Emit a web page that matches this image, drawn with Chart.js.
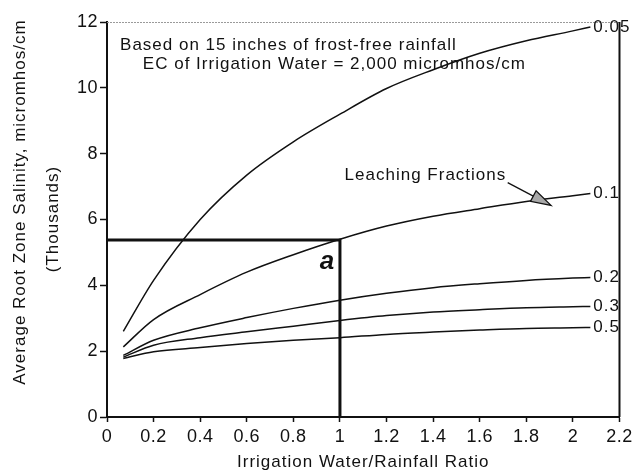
<!DOCTYPE html>
<html lang="en">
<head>
    <meta charset="UTF-8">
    <title>Average Root Zone Salinity vs Irrigation Water/Rainfall Ratio</title>
    <script src="https://cdn.jsdelivr.net/npm/chart.js@4.4.0/dist/chart.umd.min.js"></script>
    <style>
        html, body {
            margin: 0;
            padding: 0;
            background: #ffffff;
        }

        .chart-box {
            width: 636px;
            height: 471px;
            position: relative;
        }
    </style>
</head>
<body>
    <div class="chart-box">
        <canvas id="salinityChart"></canvas>
    </div>

    <script>
        // irrigation water / rainfall ratio where each curve was read
        const ratios = [0.07, 0.2, 0.4, 0.6, 0.8, 1.0, 1.2, 1.4, 1.6, 1.8, 2.0, 2.075];

        // average root zone salinity (thousands of micromhos/cm) per leaching fraction
        const lf005 = [2.6, 4.15, 6.0, 7.35, 8.36, 9.2, 9.98, 10.55, 11.05, 11.43, 11.73, 11.85];
        const lf01  = [2.13, 2.96, 3.72, 4.4, 4.93, 5.4, 5.8, 6.1, 6.33, 6.55, 6.72, 6.79];
        const lf02  = [1.87, 2.33, 2.71, 3.02, 3.3, 3.55, 3.76, 3.93, 4.05, 4.15, 4.22, 4.24];
        const lf03  = [1.82, 2.18, 2.41, 2.59, 2.76, 2.93, 3.08, 3.19, 3.26, 3.32, 3.35, 3.36];
        const lf05  = [1.78, 1.98, 2.11, 2.23, 2.33, 2.41, 2.51, 2.58, 2.64, 2.69, 2.71, 2.72];

        const seriesValues = [lf005, lf01, lf02, lf03, lf05];
        const fractionLabels = ['0.05', '0.1', '0.2', '0.3', '0.5'];

        const xTicks = [0, 0.2, 0.4, 0.6, 0.8, 1, 1.2, 1.4, 1.6, 1.8, 2, 2.2];
        const yTicks = [0, 2, 4, 6, 8, 10, 12];

        // example point "a": ratio 1.0 gives about 5,400 micromhos/cm
        const pointA = { x: 1, y: 5.38 };

        const FONT = '"Liberation Sans", Arial, Helvetica, sans-serif';
        const INK = '#111111';

        const decorations = {
            id: 'decorations',
            beforeDraw(chart) {
                chart.ctx.letterSpacing = '0.5px';
            },
            beforeDatasetsDraw(chart) {
                const { ctx, chartArea: area, scales: { x, y } } = chart;
                ctx.save();
                // frame: faint top edge, solid right edge
                ctx.strokeStyle = '#9a9a9a';
                ctx.lineWidth = 1;
                ctx.setLineDash([2, 1]);
                ctx.beginPath();
                ctx.moveTo(area.left, area.top + 0.5);
                ctx.lineTo(area.right, area.top + 0.5);
                ctx.stroke();
                ctx.setLineDash([]);
                ctx.strokeStyle = INK;
                ctx.lineWidth = 2;
                ctx.beginPath();
                ctx.moveTo(area.right, area.top);
                ctx.lineTo(area.right, area.bottom);
                ctx.stroke();

                // thick guide lines for point a
                ctx.lineWidth = 3;
                ctx.beginPath();
                ctx.moveTo(x.getPixelForValue(0), y.getPixelForValue(pointA.y));
                ctx.lineTo(x.getPixelForValue(pointA.x), y.getPixelForValue(pointA.y));
                ctx.lineTo(x.getPixelForValue(pointA.x), y.getPixelForValue(0));
                ctx.stroke();
                ctx.restore();
            },
            afterDatasetsDraw(chart) {
                const { ctx, chartArea: area, scales: { x, y } } = chart;
                ctx.save();
                ctx.fillStyle = INK;
                ctx.letterSpacing = '1px';
                ctx.font = '17px ' + FONT;
                ctx.textBaseline = 'middle';
                ctx.textAlign = 'left';

                // fraction labels at the end of each curve
                chart.data.datasets.forEach((ds, i) => {
                    const last = ds.data[ds.data.length - 1];
                    ctx.fillText(fractionLabels[i], x.getPixelForValue(last.x) + 3, y.getPixelForValue(last.y));
                });

                ctx.fillText('Based on 15 inches of frost-free rainfall', x.getPixelForValue(0.056), y.getPixelForValue(11.3));
                ctx.fillText('EC of Irrigation Water = 2,000 micromhos/cm', x.getPixelForValue(0.154), y.getPixelForValue(10.72));
                ctx.fillText('Leaching Fractions', x.getPixelForValue(1.02), y.getPixelForValue(7.34));

                // arrow from the label down to the 0.1 curve
                const x0 = x.getPixelForValue(1.72), y0 = y.getPixelForValue(7.12);
                const x1 = x.getPixelForValue(1.906), y1 = y.getPixelForValue(6.43);
                const ang = Math.atan2(y1 - y0, x1 - x0);
                const headLen = 20, headW = 6;
                const bx = x1 - headLen * Math.cos(ang), by = y1 - headLen * Math.sin(ang);
                ctx.strokeStyle = INK;
                ctx.lineWidth = 1.3;
                ctx.beginPath();
                ctx.moveTo(x0, y0);
                ctx.lineTo(bx, by);
                ctx.stroke();
                ctx.beginPath();
                ctx.moveTo(x1, y1);
                ctx.lineTo(bx + headW * Math.sin(ang), by - headW * Math.cos(ang));
                ctx.lineTo(bx - headW * Math.sin(ang), by + headW * Math.cos(ang));
                ctx.closePath();
                ctx.fillStyle = '#a8a8a8';
                ctx.fill();
                ctx.stroke();

                // the "a" marker
                ctx.fillStyle = INK;
                ctx.letterSpacing = '0px';
                ctx.font = 'italic bold 26px ' + FONT;
                ctx.textAlign = 'right';
                ctx.fillText('a', x.getPixelForValue(0.975), y.getPixelForValue(4.72));

                // axis titles
                ctx.letterSpacing = '1px';
                ctx.font = '17px ' + FONT;
                ctx.textAlign = 'center';
                ctx.fillText('Irrigation Water/Rainfall Ratio', (area.left + area.right) / 2, area.bottom + 45);

                ctx.translate(area.left - 87, area.top + 180);
                ctx.rotate(-Math.PI / 2);
                ctx.fillText('Average Root Zone Salinity, micromhos/cm', 0, 0);
                ctx.fillText('(Thousands)', -17, 33);
                ctx.restore();
            }
        };

        const datasets = seriesValues.map((vals, i) => ({
            label: fractionLabels[i],
            data: ratios.map((r, j) => ({ x: r, y: vals[j] })),
            borderColor: INK,
            borderWidth: 1.5,
            pointRadius: 0,
            fill: false,
            cubicInterpolationMode: 'monotone'
        }));

        const ctx = document.getElementById('salinityChart').getContext('2d');
        new Chart(ctx, {
            type: 'line',
            data: { datasets },
            plugins: [decorations],
            options: {
                responsive: true,
                maintainAspectRatio: false,
                animation: false,
                layout: {
                    padding: { left: 0, right: 14, top: 22, bottom: 0 }
                },
                plugins: {
                    legend: { display: false },
                    tooltip: { enabled: false }
                },
                scales: {
                    x: {
                        type: 'linear',
                        min: 0,
                        max: 2.2,
                        afterFit: scale => { scale.height = 54; },
                        afterBuildTicks: scale => { scale.ticks = xTicks.map(v => ({ value: v })); },
                        grid: {
                            drawOnChartArea: false,
                            drawTicks: true,
                            tickLength: 5,
                            tickColor: INK,
                            tickWidth: 1.5
                        },
                        border: { display: true, color: INK, width: 2 },
                        ticks: {
                            color: INK,
                            padding: 4,
                            maxRotation: 0,
                            autoSkip: false,
                            font: { family: FONT, size: 18 },
                            callback: v => String(Number(v.toFixed(1)))
                        }
                    },
                    y: {
                        min: 0,
                        max: 12,
                        afterFit: scale => { scale.width = 107; },
                        afterBuildTicks: scale => { scale.ticks = yTicks.map(v => ({ value: v })); },
                        grid: {
                            drawOnChartArea: false,
                            drawTicks: true,
                            tickLength: 7,
                            tickColor: INK,
                            tickWidth: 1.5
                        },
                        border: { display: true, color: INK, width: 2 },
                        ticks: {
                            color: INK,
                            padding: 2,
                            font: { family: FONT, size: 18 }
                        }
                    }
                }
            }
        });
    </script>
</body>
</html>
